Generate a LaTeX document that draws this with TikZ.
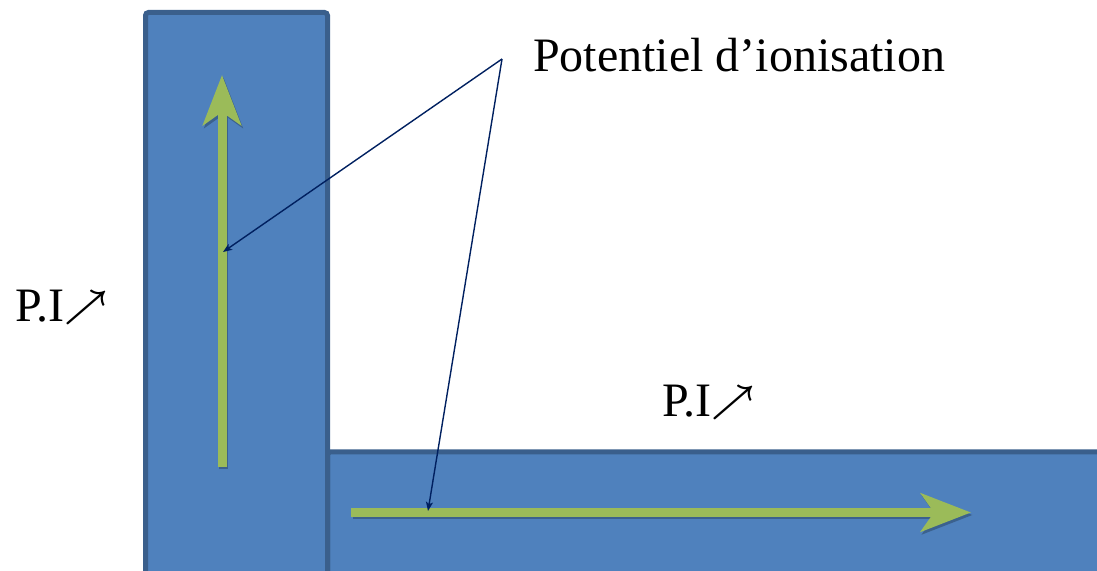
\documentclass[tikz,border=0pt]{standalone}
\usepackage{fix-cm}
\usepackage{fontspec}
\setmainfont{Liberation Serif}
\usepackage{tikz}
\usetikzlibrary{arrows.meta}
\definecolor{barblue}{HTML}{4F81BD}
\definecolor{baredge}{HTML}{3A5F8C}
\definecolor{trendgreen}{HTML}{9BBB59}
\definecolor{callnavy}{HTML}{002060}
\newcommand{\piup}{\raisebox{4pt}{\fontsize{38}{38}\selectfont\boldmath$\nearrow$}}

\begin{document}
\begin{tikzpicture}[x=1pt, y=1pt,
    bar/.style={draw=baredge, line width=5pt, fill=barblue, rounded corners=3pt},
    trend/.style={-{Stealth[length=50pt, width=38pt, inset=13pt]}, line width=9pt, draw=trendgreen},
    trendshade/.style={-{Stealth[length=50pt, width=38pt, inset=13pt]}, line width=9pt,
        draw=barblue!75!black, transform canvas={shift={(1.5pt,-2.5pt)}}},
    callout/.style={-{Stealth[length=9pt, width=7pt, inset=2pt]}, line width=1.4pt, draw=callnavy},
    pilabel/.style={inner sep=0pt, anchor=base west, font=\fontsize{48}{58}\selectfont}
]
\useasboundingbox (0,0) rectangle (1097,570);
\clip (0,0) rectangle (1097,570);

% the two bars
\path[bar] (327.5,-10) rectangle (1110,118);
\path[bar] (145.5,-10) rectangle (327.5,557.5);

% green arrows
\coordinate (vstart) at (222,103);
\coordinate (vend) at (222,495);
\coordinate (hstart) at (351,57.5);
\coordinate (hend) at (971,57.5);
\draw[trendshade] (vstart) -- (vend);
\draw[trendshade] (hstart) -- (hend);
\draw[trend] (vstart) -- (vend);
\draw[trend] (hstart) -- (hend);

% labels
\node[pilabel] (ionis) at (533,498) {Potentiel d’ionisation};
\node[pilabel] (pileft) at (15,248) {P.I\piup};
\node[pilabel] (piright) at (662,153) {P.I\piup};

% callout lines
\coordinate (callfrom) at (502,511);
\coordinate (vtarget) at (223,318);
\coordinate (htarget) at (428,59);
\draw[callout] (callfrom) -- (vtarget);
\draw[callout] (callfrom) -- (htarget);
\end{tikzpicture}
\end{document}
